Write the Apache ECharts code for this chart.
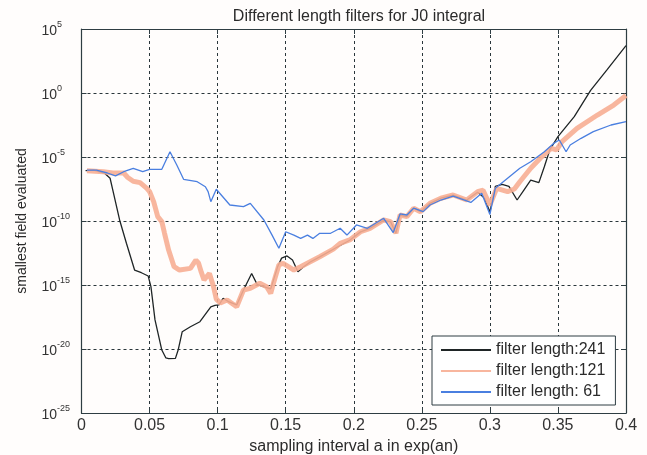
<!DOCTYPE html>
<html>
<head>
<meta charset="utf-8">
<script src="https://cdn.jsdelivr.net/npm/echarts@6/dist/echarts.min.js"></script>
<style>
  html, body { margin: 0; padding: 0; background: #fffdfc; }
  #chart { width: 647px; height: 455px; }
</style>
</head>
<body>
<div id="chart"></div>
<script>
// Smallest evaluated field versus sampling interval, per filter length.
// Each point: [sampling interval a, log10 of the smallest field].
// The vertical axis runs in decades, so these pairs are plotted directly.
const len241 = [
  [0.003, -6.07], [0.009, -6.02], [0.017, -6.27], [0.021, -6.66], [0.023, -7.58],
  [0.028, -9.92], [0.033, -11.74], [0.039, -13.83], [0.044, -14.04], [0.049, -14.3],
  [0.051, -15.13], [0.054, -17.73], [0.059, -20.08], [0.062, -20.7], [0.064, -20.75],
  [0.069, -20.73], [0.071, -20.08], [0.074, -18.65], [0.080, -18.26], [0.087, -17.87],
  [0.095, -16.7], [0.098, -16.6], [0.101, -16.56], [0.104, -16.04], [0.108, -16.3],
  [0.114, -16.56], [0.119, -15.39], [0.125, -14.1], [0.129, -14.95], [0.133, -15.1],
  [0.139, -15.3], [0.144, -13.6], [0.147, -12.9], [0.151, -12.73], [0.155, -13.05],
  [0.159, -13.96], [0.163, -13.6], [0.168, -13.2], [0.175, -12.8], [0.186, -12.15],
  [0.197, -11.5], [0.205, -10.85], [0.212, -10.57], [0.222, -9.95], [0.227, -10.05],
  [0.231, -10.95], [0.234, -9.55], [0.239, -9.66], [0.244, -9.0], [0.249, -9.27],
  [0.256, -8.62], [0.264, -8.22], [0.273, -7.97], [0.283, -8.36], [0.291, -7.75],
  [0.296, -8.2], [0.300, -9.3], [0.304, -7.3], [0.309, -7.14], [0.314, -7.3],
  [0.320, -8.36], [0.325, -7.58], [0.330, -6.8], [0.336, -7.0], [0.340, -5.76],
  [0.344, -4.45], [0.350, -3.41], [0.362, -1.85], [0.374, 0.2], [0.386, 1.8],
  [0.400, 3.7]
];

const len121 = [
  [0.004, -6.07], [0.016, -6.15], [0.023, -6.25], [0.031, -6.25], [0.034, -6.6],
  [0.038, -6.9], [0.043, -7.0], [0.048, -7.45], [0.050, -7.7], [0.053, -8.49],
  [0.056, -9.66], [0.059, -10.05], [0.061, -10.96], [0.064, -12.27], [0.068, -13.57],
  [0.072, -13.83], [0.080, -13.7], [0.084, -13.05], [0.086, -13.3], [0.088, -14.0],
  [0.090, -14.6], [0.094, -14.1], [0.097, -15.13], [0.099, -16.1], [0.102, -16.4],
  [0.107, -16.17], [0.114, -16.7], [0.119, -15.39], [0.124, -15.26], [0.131, -14.87],
  [0.136, -15.13], [0.139, -15.65], [0.141, -14.87], [0.145, -13.44], [0.148, -13.3],
  [0.152, -13.57], [0.156, -13.83], [0.161, -13.57], [0.168, -13.18], [0.175, -12.79],
  [0.185, -12.2], [0.190, -11.74], [0.197, -11.48], [0.205, -10.84], [0.212, -10.57],
  [0.222, -9.92], [0.227, -10.05], [0.231, -10.96], [0.234, -9.53], [0.239, -9.66],
  [0.244, -9.0], [0.249, -9.27], [0.256, -8.62], [0.264, -8.22], [0.273, -7.97],
  [0.283, -8.36], [0.291, -7.71], [0.295, -7.6], [0.300, -8.75], [0.305, -7.45],
  [0.313, -7.71], [0.318, -7.5], [0.322, -6.93], [0.330, -5.88], [0.337, -5.1],
  [0.345, -4.32], [0.349, -4.45], [0.353, -3.8], [0.364, -2.76], [0.379, -1.72],
  [0.391, -0.94], [0.400, -0.2]
];

const len61 = [
  [0.004, -6.02], [0.011, -6.02], [0.019, -6.25], [0.025, -6.48], [0.031, -6.15],
  [0.038, -5.88], [0.045, -6.15], [0.050, -5.96], [0.059, -5.96], [0.065, -4.59],
  [0.070, -5.63], [0.075, -6.74], [0.085, -6.93], [0.091, -7.32], [0.093, -7.7],
  [0.095, -8.49], [0.099, -7.52], [0.109, -8.75], [0.119, -8.88], [0.124, -8.62],
  [0.134, -9.92], [0.140, -11.1], [0.145, -12.13], [0.150, -10.84], [0.156, -11.1],
  [0.161, -11.36], [0.166, -11.1], [0.170, -11.36], [0.175, -10.96], [0.183, -10.96],
  [0.190, -10.57], [0.195, -11.1], [0.202, -10.31], [0.210, -10.57], [0.222, -9.79],
  [0.229, -10.9], [0.234, -9.45], [0.239, -9.53], [0.244, -9.0], [0.251, -9.27],
  [0.256, -8.75], [0.264, -8.36], [0.273, -8.05], [0.286, -8.55], [0.294, -7.84],
  [0.300, -9.5], [0.304, -7.45], [0.313, -6.66], [0.322, -5.88], [0.330, -5.37],
  [0.340, -4.59], [0.347, -3.93], [0.351, -3.67], [0.356, -4.59], [0.359, -4.06],
  [0.367, -3.54], [0.376, -3.02], [0.389, -2.5], [0.400, -2.24]
];

const seriesNames = ['filter length:241', 'filter length:121', 'filter length: 61'];
const xTicks = [0, 0.05, 0.1, 0.15, 0.2, 0.25, 0.3, 0.35, 0.4];
const yDecadeTicks = [-25, -20, -15, -10, -5, 0, 5];

const frameColor = '#2e3d42';
const gridDash = { color: '#2a363b', width: 1, type: [3, 3] };
const font = '"Liberation Sans", Arial, Helvetica, sans-serif';

const chart = echarts.init(document.getElementById('chart'), null, { renderer: 'canvas' });

const frameLine = { show: true, onZero: false, lineStyle: { color: frameColor, width: 1.2 } };
const innerTick = { show: true, inside: true, length: 5, lineStyle: { color: frameColor } };

const yAxisBase = {
  type: 'value',
  min: yDecadeTicks[0],
  max: yDecadeTicks[yDecadeTicks.length - 1],
  interval: 5,
  axisLine: frameLine,
  axisTick: innerTick
};

const xAxisBase = {
  type: 'value',
  min: xTicks[0],
  max: xTicks[xTicks.length - 1],
  interval: 0.05,
  axisLine: frameLine,
  axisTick: innerTick
};

chart.setOption({
  backgroundColor: '#fffdfc',
  animation: false,
  textStyle: { fontFamily: font },
  title: {
    text: 'Different length filters for J0 integral',
    left: 354,
    top: 4,
    textAlign: 'center',
    textStyle: { fontSize: 16, fontWeight: 'normal', color: '#2b2b2b', fontFamily: font }
  },
  grid: { left: 81.5, right: 21, top: 29, bottom: 42, containLabel: false, outerBoundsMode: 'none' },
  legend: {
    orient: 'vertical',
    left: 432,
    top: 336,
    padding: [6, 10, 5, 8],
    itemWidth: 50,
    itemHeight: 14,
    itemGap: 5,
    backgroundColor: '#ffffff',
    borderColor: frameColor,
    borderWidth: 1,
    borderRadius: 0,
    itemStyle: { opacity: 0 },
    textStyle: { fontSize: 16, color: '#2b2b2b', fontFamily: font },
    data: seriesNames
  },
  xAxis: [Object.assign({}, xAxisBase, {
    name: 'sampling interval a in exp(an)',
    nameLocation: 'middle',
    nameGap: 26,
    nameMoveOverlap: false,
    nameTextStyle: { fontSize: 16, color: '#2b2b2b', fontFamily: font },
    axisLabel: {
      fontSize: 16, color: '#333', margin: 5, fontFamily: font, hideOverlap: false,
      showMinLabel: true, showMaxLabel: true,
      formatter: v => {
        const t = xTicks.find(k => Math.abs(k - v) < 1e-9);
        return t === undefined ? '' : String(t);
      }
    },
    splitLine: { show: true, lineStyle: gridDash }
  }), Object.assign({}, xAxisBase, {
    position: 'top',
    axisLabel: { show: false },
    splitLine: { show: false }
  })],
  yAxis: [Object.assign({}, yAxisBase, {
    name: 'smallest field evaluated',
    nameLocation: 'middle',
    nameGap: 52,
    nameRotate: 90,
    nameMoveOverlap: false,
    nameTextStyle: { fontSize: 14, color: '#2b2b2b', fontFamily: font },
    axisLabel: {
      align: 'left',
      margin: 40,
      hideOverlap: false,
      showMinLabel: true,
      showMaxLabel: true,
      formatter: v => '{b|10}{e|' + Math.round(v) + '}',
      rich: {
        b: { fontSize: 14, lineHeight: 18, verticalAlign: 'bottom', color: '#333', fontFamily: font },
        e: { fontSize: 9, lineHeight: 10, verticalAlign: 'top', color: '#333', fontFamily: font }
      }
    },
    splitLine: { show: true, lineStyle: gridDash }
  }), Object.assign({}, yAxisBase, {
    position: 'right',
    axisLabel: { show: false },
    splitLine: { show: false }
  })],
  series: [{
    name: seriesNames[0],
    type: 'line',
    data: len241,
    symbol: 'none',
    lineStyle: { color: '#1f2526', width: 1.3 },
    itemStyle: { color: '#1f2526' }
  }, {
    name: seriesNames[1],
    type: 'line',
    data: len121,
    symbol: 'none',
    lineStyle: { color: '#f7ae94', width: 5, opacity: 0.9 },
    itemStyle: { color: '#f7ae94' }
  }, {
    name: seriesNames[2],
    type: 'line',
    data: len61,
    symbol: 'none',
    lineStyle: { color: '#4a7fe0', width: 1.3 },
    itemStyle: { color: '#4a7fe0' }
  }]
});
</script>
</body>
</html>
